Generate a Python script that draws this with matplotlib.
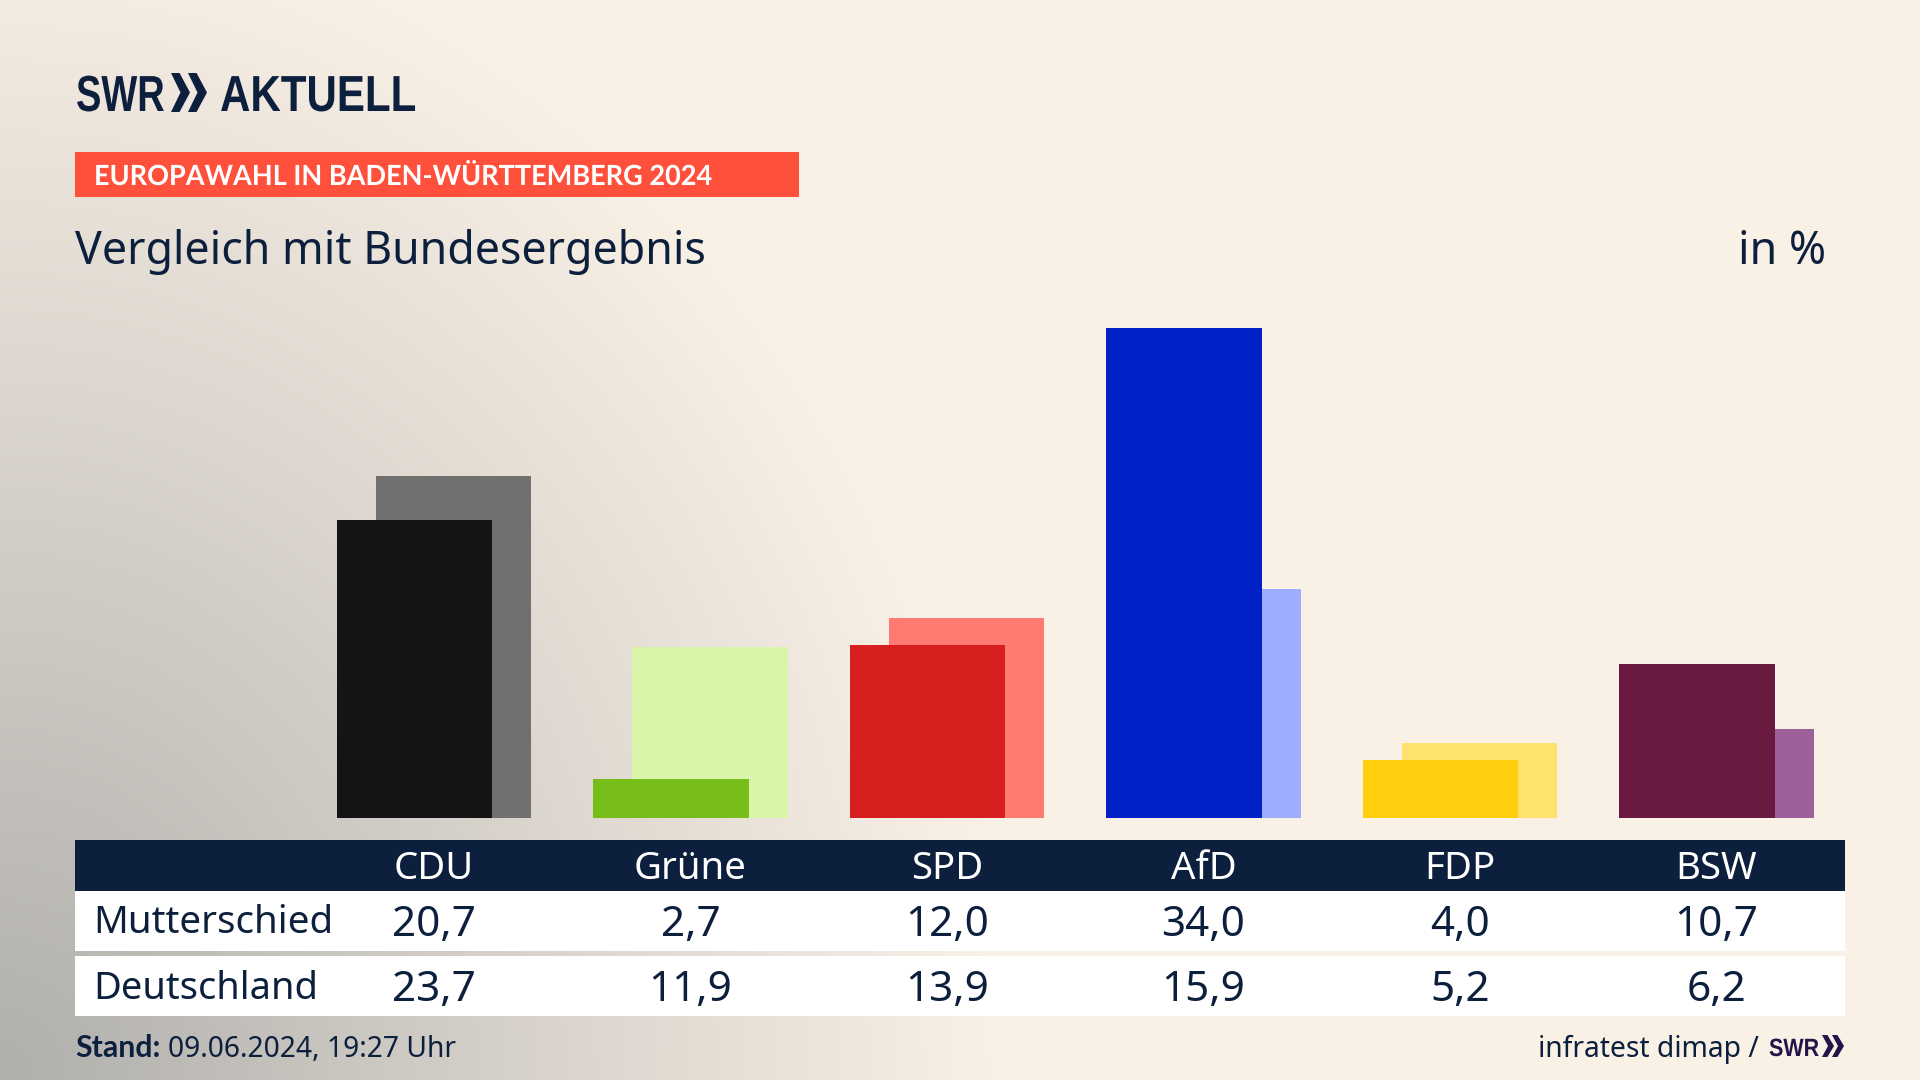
import numpy as np
import matplotlib
matplotlib.use("Agg")
import matplotlib.pyplot as plt
from matplotlib.patches import Rectangle, Polygon
from matplotlib.patheffects import AbstractPathEffect
from matplotlib.transforms import Affine2D

#data
parties = ["CDU", "Grüne", "SPD", "AfD", "FDP", "BSW"]
bw_values = [20.7, 2.7, 12.0, 34.0, 4.0, 10.7]
de_values = [23.7, 11.9, 13.9, 15.9, 5.2, 6.2]
bw_labels = ["20,7", "2,7", "12,0", "34,0", "4,0", "10,7"]
de_labels = ["23,7", "11,9", "13,9", "15,9", "5,2", "6,2"]
bw_colors = ["#141414", "#78BE1A", "#D81F1F", "#0020C8", "#FFCF0D", "#6A1A40"]
de_colors = ["#72706E", "#D8F5A9", "#FF7A70", "#9EADFF", "#FFE26E", "#9C619B"]

#config
NAVY = "#0C1F3D"
PURPLE = "#26134A"
CREAM = np.array([250, 241, 230]) / 255
GRAY = np.array([176, 175, 172]) / 255
FONT = "Noto Sans"
BOLD_FONT = "Lato"
LOGO_FONT = "Liberation Sans"
COL_X0 = 434
COL_STEP = 256.5
PX_PER_UNIT = 14.41
BASE_Y = 818

plt.rcParams["font.family"] = FONT


#no condensed bold is installed, so squeeze the logo text sideways
class SqueezeX(AbstractPathEffect):
    def __init__(self, sx, x0):
        super().__init__()
        self.squeeze = Affine2D().translate(-x0, 0).scale(sx, 1).translate(x0, 0)

    def draw_path(self, renderer, gc, tpath, affine, rgbFace=None):
        renderer.draw_path(gc, tpath, affine + self.squeeze, rgbFace)


fig = plt.figure(figsize=(19.2, 10.8), dpi=100)

#pixel canvas for background, table and header
bg = fig.add_axes([0, 0, 1, 1])
bg.set_xlim(0, 1920)
bg.set_ylim(1080, 0)
bg.axis("off")

xx, yy = np.meshgrid(np.arange(0, 1920, 4), np.arange(0, 1080, 4))
d = np.sqrt((xx / 1000) ** 2 + ((1080 - yy) / 1180) ** 2)
t = np.clip(1 - d, 0, 1)
grad = CREAM[None, None, :] * (1 - t[..., None]) + GRAY[None, None, :] * t[..., None]
bg.imshow(grad, extent=[0, 1920, 1080, 0], aspect="auto", zorder=0, interpolation="bilinear")
bg.set_xlim(0, 1920)
bg.set_ylim(1080, 0)


def chevrons(x, y, h, w, gap, color):
    for k in range(2):
        x0 = x + k * gap
        bg.add_patch(Polygon([(x0, y), (x0 + w * 0.45, y), (x0 + w, y + h / 2),
                              (x0 + w * 0.45, y + h), (x0, y + h), (x0 + w * 0.5, y + h / 2)],
                             closed=True, color=color, lw=0, zorder=3))


#logo
bg.text(76, 111, "SWR", family=LOGO_FONT, weight="bold", fontsize=36.5, color=NAVY, va="baseline",
        path_effects=[SqueezeX(0.75, 76)])
chevrons(171, 73, 39, 19, 17, NAVY)
bg.text(220, 111, "AKTUELL", family=LOGO_FONT, weight="bold", fontsize=36.5, color=NAVY, va="baseline",
        path_effects=[SqueezeX(0.83, 220)])

#banner and titles
bg.add_patch(Rectangle((75, 152), 724, 45, color="#FF503C", lw=0, zorder=2))
bg.text(94, 185, "EUROPAWAHL IN BADEN-WÜRTTEMBERG 2024", family=BOLD_FONT, weight="bold", fontsize=20,
        color="white", va="baseline", zorder=3, path_effects=[SqueezeX(0.975, 94)])
bg.text(75, 264, "Vergleich mit Bundesergebnis", fontsize=32.2, color=NAVY, va="baseline")
bg.text(1826, 264, "in %", fontsize=32.2, color=NAVY, va="baseline", ha="right")

#table
bg.add_patch(Rectangle((75, 840), 1770, 51, color=NAVY, lw=0, zorder=2))
bg.add_patch(Rectangle((75, 891), 1770, 60, color="white", lw=0, zorder=2))
bg.add_patch(Rectangle((75, 956), 1770, 60, color="white", lw=0, zorder=2))
bg.text(93, 933, "Mutterschied", fontsize=27.7, color=NAVY, va="baseline", zorder=3)
bg.text(93, 999, "Deutschland", fontsize=27.4, color=NAVY, va="baseline", zorder=3)
for i, party in enumerate(parties):
    cx = COL_X0 + i * COL_STEP
    bg.text(cx, 879, party, fontsize=27.6, color="white", ha="center", va="baseline", zorder=3)
    bg.text(cx, 936, bw_labels[i], fontsize=30.4, color=NAVY, ha="center", va="baseline", zorder=3)
    bg.text(cx, 1001, de_labels[i], fontsize=30.4, color=NAVY, ha="center", va="baseline", zorder=3)

#footer
bg.text(75, 1057, "Stand:", family=BOLD_FONT, weight="bold", fontsize=21.8, color=NAVY, va="baseline")
bg.text(168, 1057, "09.06.2024, 19:27 Uhr", fontsize=20.3, color=NAVY, va="baseline")
bg.text(1759, 1057, "infratest dimap /", fontsize=20.35, color=NAVY, va="baseline", ha="right")
bg.text(1769, 1056, "SWR", family=LOGO_FONT, weight="bold", fontsize=18, color=PURPLE, va="baseline",
        path_effects=[SqueezeX(0.86, 1769)])
chevrons(1822, 1035, 22, 12, 10, PURPLE)

#bars on their own axes, baseline and unit size
top_val = 36
ax_h = top_val * PX_PER_UNIT
ax = fig.add_axes([75 / 1920, (1080 - BASE_Y) / 1080, 1770 / 1920, ax_h / 1080])
ax.patch.set_alpha(0)
ax.set_xlim((75 - COL_X0) / COL_STEP, (1845 - COL_X0) / COL_STEP)
ax.set_ylim(0, top_val)
ax.axis("off")

x = np.arange(len(parties))
width = 155.2 / COL_STEP
shift = 19.5 / COL_STEP
ax.bar(x + shift, de_values, width, color=de_colors, zorder=1)
ax.bar(x - shift, bw_values, width, color=bw_colors, zorder=2)

plt.savefig("out.png", dpi=100)
